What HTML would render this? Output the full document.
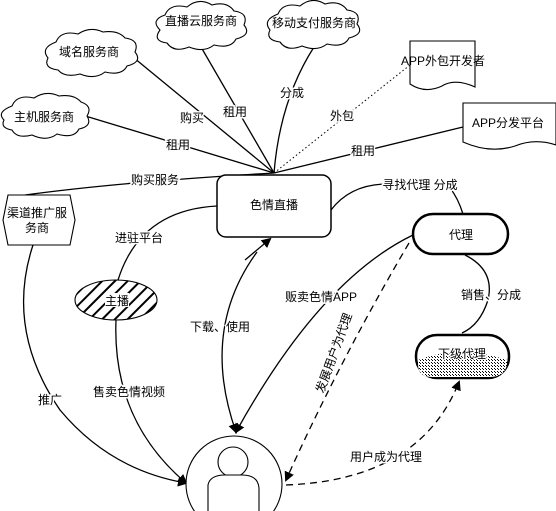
<!DOCTYPE html>
<html><head><meta charset="utf-8"><style>
html,body{margin:0;padding:0;background:#fff}
svg{display:block}
text{font-family:"Liberation Sans","Noto Sans CJK SC",sans-serif;font-size:12px;fill:#000}
</style></head><body>
<svg width="556" height="511" viewBox="0 0 556 511" xmlns="http://www.w3.org/2000/svg">
<defs>
<marker id="ar" markerWidth="10" markerHeight="10" refX="8" refY="5" orient="auto" markerUnits="userSpaceOnUse">
<path d="M0,0 L10,5 L0,10 z" fill="#000"/></marker>
<pattern id="hat" width="9" height="9" patternUnits="userSpaceOnUse" patternTransform="rotate(45)">
<rect width="9" height="9" fill="#fff"/><rect x="0" y="0" width="2" height="9" fill="#000"/></pattern>
<pattern id="dot" width="3" height="3" patternUnits="userSpaceOnUse">
<rect width="3" height="3" fill="#fff"/><rect width="1" height="1" fill="#000"/><rect x="2" y="2" width="1" height="1" fill="#000"/></pattern>
</defs>
<g fill="none" stroke="#000" stroke-width="1.3">
<line x1="274" y1="173" x2="128" y2="53"/>
<line x1="274" y1="173" x2="201" y2="47"/>
<path d="M274,173 Q280,100 314,47"/>
<line x1="274" y1="173" x2="410" y2="65" stroke-dasharray="1.5,2.5" stroke-width="1"/>
<line x1="274" y1="173" x2="463" y2="127"/>
<line x1="274" y1="173" x2="82" y2="115"/>
<path d="M274,173 Q120,182 25,195"/>
<path d="M331,210 Q350,185 385,184 M450,188 Q458,198 463,214"/>
<path d="M465,255 Q495,270 488,300 Q480,325 462,333"/>
<path d="M217,206 Q140,210 118,280"/>
<path d="M116,320 Q112,420 186,483" marker-end="url(#ar)"/>
<path d="M33,245 Q5,330 60,410 Q110,470 186,483" marker-end="url(#ar)"/>
<path d="M257,252 Q200,330 236,432" marker-end="url(#ar)"/>
<path d="M245,260 L270,239" marker-end="url(#ar)"/>
<path d="M413,235 Q320,280 236,432" marker-end="url(#ar)"/>
<path d="M409,243 Q340,360 286,480" stroke-dasharray="7,5" marker-end="url(#ar)"/>
<path d="M286,485 Q420,480 459,382" stroke-dasharray="7,5" marker-end="url(#ar)"/>
</g>
<g fill="#fff" stroke="#000" stroke-width="1.1">
<path d="M160,30 q-10,-10 5,-15 q5,-12 22,-8 q12,-10 25,-2 q15,-4 22,6 q15,2 10,14 q8,10 -8,14 q-5,10 -22,6 q-10,8 -25,2 q-15,6 -22,-4 q-15,-2 -7,-13z"/>
<path d="M270,30 q-8,-10 8,-16 q5,-12 22,-8 q12,-10 25,-2 q15,-4 22,6 q15,2 10,14 q8,10 -8,14 q-5,10 -22,6 q-10,8 -25,2 q-15,6 -22,-4 q-15,-2 -10,-12z"/>
<path d="M48,58 q-8,-10 8,-16 q5,-12 22,-8 q12,-8 25,-2 q15,-2 22,6 q15,2 10,14 q8,10 -8,14 q-5,10 -22,6 q-10,8 -25,2 q-15,4 -22,-4 q-15,-2 -10,-12z"/>
<path d="M4,120 q-8,-8 8,-14 q5,-12 22,-8 q12,-8 25,-2 q15,-2 22,6 q12,4 6,14 q6,10 -8,13 q-5,10 -22,5 q-10,8 -25,1 q-15,4 -20,-5 q-12,-2 -8,-10z"/>
<path d="M410,41 H475 V87 Q455,78 442,86 Q425,94 410,84 Z"/>
<path d="M463,103 H556 V145 Q535,138 515,146 Q490,154 463,142 Z"/>
<rect x="217" y="175" width="114" height="62" rx="9" stroke-width="1.5"/>
<path d="M8,195 H70 L75,220 L70,245 H8 L3,220 Z"/>
<rect x="413" y="214" width="95" height="40" rx="20" stroke-width="2.5"/>
<rect x="416" y="335" width="93" height="43" rx="21" stroke-width="2.5"/>
<ellipse cx="116" cy="300" rx="41" ry="20" fill="url(#hat)"/>
<circle cx="234" cy="484" r="48"/>
<circle cx="233" cy="462" r="15"/>
<path d="M208,511 V485 Q210,475 225,475 H242 Q258,475 259,488 V511"/>
</g>
<path d="M418,360 Q460,344 507,360 V364 Q505,377 490,377 H432 Q418,377 418,364Z" fill="url(#dot)"/>
<rect x="105" y="293" width="24" height="14" fill="#fff"/>
<g text-anchor="middle">
<text x="201" y="25">直播云服务商</text>
<text x="314" y="27">移动支付服务商</text>
<text x="89" y="56">域名服务商</text>
<text x="44" y="121">主机服务商</text>
<text x="443" y="65" font-size="11">APP外包开发者</text>
<text x="508" y="127" font-size="11">APP分发平台</text>
<text x="274" y="209">色情直播</text>
<text x="37" y="217">渠道推广服</text>
<text x="37" y="232">务商</text>
<text x="461" y="239">代理</text>
<text x="117" y="305">主播</text>
</g>
<text x="462" y="358" text-anchor="middle" stroke="#fff" stroke-width="2" paint-order="stroke">下级代理</text>
<g text-anchor="middle" stroke="#fff" stroke-width="3" paint-order="stroke">
<text x="192" y="122">购买</text>
<text x="235" y="116">租用</text>
<text x="292" y="97">分成</text>
<text x="342" y="120">外包</text>
<text x="363" y="155">租用</text>
<text x="178" y="149">租用</text>
<text x="155" y="184">购买服务</text>
<text x="420" y="189">寻找代理 分成</text>
<text x="139" y="242">进驻平台</text>
<text x="321" y="301">贩卖色情APP</text>
<text x="220" y="331">下载、使用</text>
<text x="491" y="299">销售、分成</text>
<text x="50" y="404">推广</text>
<text x="129" y="396">售卖色情视频</text>
<text x="386" y="461">用户成为代理</text>
<text x="334" y="357" transform="rotate(-70 334 353)">发展用户为代理</text>
</g>
</svg>
</body></html>
